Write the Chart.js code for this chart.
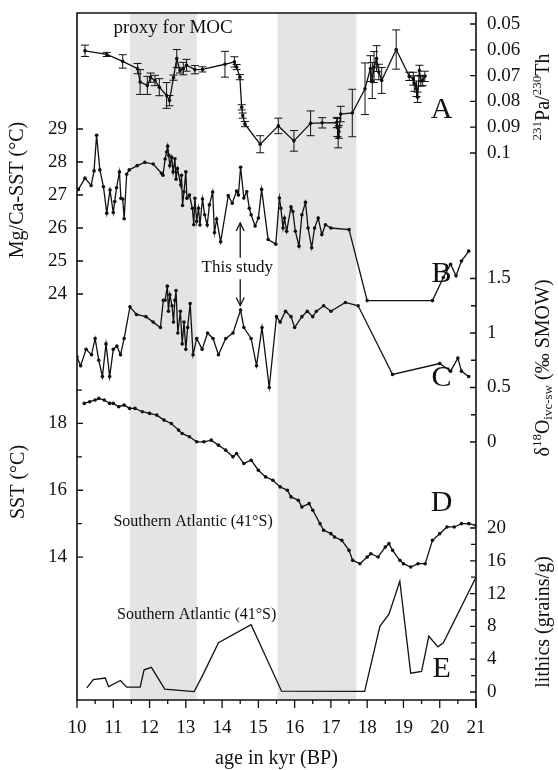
<!DOCTYPE html>
<html><head><meta charset="utf-8">
<script src="https://cdn.jsdelivr.net/npm/chart.js@4"></script>
<style>html,body{margin:0;padding:0;background:#fff;}</style>
</head><body>
<canvas id="c" width="558" height="770"></canvas>
<script>
// ---------- DATA ----------
// A: 231Pa/230Th (proxy for MOC)
const ageA = [10.22,10.82,11.26,11.67,11.74,11.94,12.03,12.15,12.27,12.47,12.55,12.66,12.75,12.84,12.93,13.02,13.25,13.46,14.08,14.34,14.40,14.49,14.54,14.57,14.63,15.05,15.55,15.98,16.44,16.76,17.16,17.18,17.20,17.22,17.27,17.59,17.94,18.09,18.14,18.19,18.26,18.32,18.40,18.80,19.16,19.27,19.30,19.36,19.39,19.44,19.48,19.53,19.59];
const paTh = [0.0604,0.0618,0.0645,0.0673,0.0725,0.0738,0.0708,0.0719,0.0745,0.0777,0.0797,0.0708,0.0634,0.0680,0.0673,0.0660,0.0677,0.0676,0.0656,0.0647,0.0667,0.0706,0.0823,0.0855,0.0888,0.0966,0.0895,0.0953,0.0885,0.0883,0.0882,0.0901,0.0940,0.0918,0.0849,0.0845,0.0751,0.0673,0.0719,0.0667,0.0634,0.0686,0.0719,0.0599,0.0703,0.0712,0.0731,0.0751,0.0784,0.0680,0.0721,0.0719,0.0703];
const paThErr = [0.0022,0.0008,0.0026,0.0020,0.0048,0.0035,0.0018,0.0020,0.0033,0.0050,0.0020,0.0010,0.0035,0.0010,0.0024,0.0023,0.0016,0.0010,0.0050,0.0020,0.0010,0.0010,0.0010,0.0010,0.0010,0.0033,0.0030,0.0040,0.0048,0.0020,0.0020,0.0035,0.0040,0.0025,0.0030,0.0092,0.0100,0.0050,0.0070,0.0060,0.0050,0.0030,0.0050,0.0076,0.0016,0.0025,0.0030,0.0030,0.0020,0.0020,0.0020,0.0020,0.0020];
// B: Mg/Ca-SST (this study)
const ageB = [10.04,10.22,10.39,10.47,10.54,10.63,10.73,10.82,10.91,11.0,11.04,11.09,11.17,11.21,11.26,11.30,11.37,11.44,11.66,11.87,12.10,12.33,12.37,12.43,12.47,12.50,12.53,12.56,12.61,12.65,12.70,12.73,12.77,12.86,12.88,12.91,12.95,13.0,13.03,13.1,13.18,13.22,13.25,13.3,13.35,13.39,13.46,13.52,13.59,13.65,13.74,13.79,13.85,13.96,14.17,14.28,14.40,14.45,14.51,14.60,14.68,14.75,14.80,14.91,15.0,15.09,15.27,15.48,15.58,15.62,15.68,15.72,15.78,15.9,15.95,16.02,16.12,16.2,16.30,16.37,16.47,16.55,16.65,16.75,16.85,17.0,17.5,18.0,19.8,20.1,20.3,20.45,20.6,20.8];
const sstB = [27.17,27.51,27.29,27.73,28.81,27.76,27.25,26.45,27.15,26.47,26.8,27.22,27.7,26.9,26.88,26.28,27.63,27.76,27.89,27.99,27.94,27.66,27.6,28.09,28.3,28.48,28.2,27.89,28.14,27.7,28.1,27.48,27.8,27.3,27.6,26.68,27.1,27.7,26.9,27.0,26.6,26.1,26.9,26.2,26.6,26.09,26.88,26.4,26.09,26.7,27.09,25.86,26.27,25.58,26.98,26.75,27.12,27.0,27.84,26.91,27.1,26.6,26.4,26.06,26.3,27.17,25.65,25.51,26.91,26.6,26.0,26.3,25.9,26.64,26.5,25.9,25.45,26.4,26.78,26.0,25.4,26.0,26.3,25.8,26.1,26.0,25.95,23.8,23.8,24.5,24.9,24.55,25.0,25.3];
// C: delta18O ivc-sw
const ageC = [10.0,10.1,10.25,10.4,10.5,10.6,10.7,10.8,10.9,11.0,11.1,11.2,11.3,11.46,11.64,11.9,12.1,12.3,12.38,12.43,12.49,12.52,12.56,12.62,12.66,12.7,12.73,12.78,12.85,12.9,12.95,13.0,13.05,13.12,13.2,13.3,13.45,13.6,13.75,13.9,14.1,14.3,14.51,14.6,14.8,14.95,15.1,15.3,15.5,15.6,15.75,15.9,16.0,16.2,16.35,16.5,16.6,16.8,17.0,17.4,17.75,18.7,20.0,20.3,20.5,20.6,20.8];
const d18O = [0.78,0.7,0.85,0.8,0.95,0.75,0.6,0.9,0.6,0.85,0.88,0.8,0.95,1.24,1.17,1.15,1.1,1.05,1.3,1.3,1.43,1.2,1.35,1.25,1.1,1.3,1.39,1.0,1.2,0.9,1.1,0.85,1.05,1.27,0.8,0.95,0.85,1.0,0.95,0.8,0.95,1.0,1.21,1.05,0.95,0.7,1.05,0.5,1.15,1.1,1.2,1.15,1.05,1.15,1.2,1.15,1.2,1.25,1.2,1.28,1.25,0.62,0.72,0.65,0.77,0.65,0.6];
// D: SST Southern Atlantic (41°S)
const ageD = [10.2,10.35,10.5,10.6,10.75,10.9,11.0,11.15,11.3,11.45,11.6,11.8,12.0,12.2,12.4,12.6,12.8,12.9,13.1,13.3,13.5,13.7,13.9,14.1,14.3,14.4,14.6,14.8,15.0,15.2,15.4,15.6,15.8,15.9,16.1,16.2,16.4,16.5,16.7,16.8,17.0,17.1,17.3,17.5,17.6,17.8,18.0,18.1,18.3,18.5,18.6,18.7,18.9,19.0,19.2,19.4,19.6,19.8,20.0,20.2,20.4,20.6,20.8,21.0];
const sstD = [18.6,18.65,18.7,18.75,18.7,18.6,18.6,18.5,18.55,18.45,18.45,18.35,18.3,18.25,18.1,18.0,17.8,17.7,17.6,17.45,17.45,17.5,17.35,17.2,17.0,17.1,16.8,16.9,16.6,16.4,16.3,16.1,16.0,15.8,15.7,15.5,15.6,15.4,15.0,14.8,14.7,14.6,14.5,14.2,13.9,13.8,14.0,14.1,14.0,14.3,14.4,14.2,13.9,13.8,13.7,13.8,13.8,14.5,14.7,14.9,14.9,15.0,15.0,14.95];
// E: lithics (grains/g)
const ageE = [10.27,10.45,10.78,10.87,11.2,11.37,11.74,11.85,12.05,12.42,13.23,13.46,13.9,14.8,15.64,17.93,18.35,18.6,18.9,19.2,19.5,19.7,19.95,20.1,21.0];
const lithE = [0.5,1.5,1.7,0.65,1.4,0.6,0.6,2.7,3.0,0.35,0.05,2.0,6.0,8.2,0.1,0.07,8.0,9.5,13.5,2.3,2.5,6.8,5.5,6.0,14.0];

// ---------- TICKS / LABELS ----------
const xTickVals = [10,11,12,13,14,15,16,17,18,19,20,21];
const paThTicks = [0.05,0.06,0.07,0.08,0.09,0.1];
const paThTickLabels = ['0.05','0.06','0.07','0.08','0.09','0.1'];
const mgTicks = [24,25,26,27,28,29];
const d18Ticks = [0,0.5,1,1.5];
const d18Minor = [0.25,0.75,1.25];
const sstTicks = [14,16,18];
const sstMinor = [15,17,19];
const lithTicks = [0,4,8,12,16,20];
const lithMinor = [2,6,10,14,18];
const shadeBands = [[11.46,13.3],[15.53,17.7]];
const arrowAge = 14.5;

const SERIF = '"Liberation Serif","DejaVu Serif",serif';
const INK = '#111';

function pts(xs, ys){ return xs.map((x,i)=>({x:x, y:ys[i]})); }

function richWidth(ctx, parts){
  let w=0; for(const p of parts){ ctx.font = p.size+'px '+SERIF; w += ctx.measureText(p.t).width; } return w;
}
function drawRich(ctx, parts, cx, cy, rot){
  ctx.save();
  ctx.translate(cx, cy);
  if(rot) ctx.rotate(rot);
  ctx.textBaseline='middle'; ctx.textAlign='left'; ctx.fillStyle=INK;
  let x = -richWidth(ctx, parts)/2;
  for(const p of parts){ ctx.font = p.size+'px '+SERIF; ctx.fillText(p.t, x, p.dy||0); x += ctx.measureText(p.t).width; }
  ctx.restore();
}
function arrow(ctx, x, y1, y2){
  ctx.beginPath(); ctx.moveTo(x,y1); ctx.lineTo(x,y2); ctx.stroke();
  const d = y2>y1 ? 1 : -1;
  ctx.beginPath(); ctx.moveTo(x-4, y2-d*8); ctx.lineTo(x, y2); ctx.lineTo(x+4, y2-d*8); ctx.stroke();
}

const decor = {
  id:'decor',
  beforeDatasetsDraw(chart){
    const {ctx, chartArea:a, scales:s} = chart;
    ctx.save(); ctx.fillStyle='#e4e4e4';
    for(const [b0,b1] of shadeBands){
      const x0 = s.x.getPixelForValue(b0), x1 = s.x.getPixelForValue(b1);
      ctx.fillRect(x0, a.top, x1-x0, a.bottom-a.top);
    }
    ctx.restore();
  },
  afterDatasetsDraw(chart){
    const {ctx, chartArea:a, scales:s} = chart;
    ctx.save();
    ctx.strokeStyle=INK; ctx.fillStyle=INK; ctx.lineWidth=1;
    // error bars (A)
    ageA.forEach((t,i)=>{
      const x = s.x.getPixelForValue(t);
      const y0 = s.yA.getPixelForValue(paTh[i]-paThErr[i]);
      const y1 = s.yA.getPixelForValue(paTh[i]+paThErr[i]);
      ctx.beginPath();
      ctx.moveTo(x,y0); ctx.lineTo(x,y1);
      ctx.moveTo(x-4,y0); ctx.lineTo(x+4,y0);
      ctx.moveTo(x-4,y1); ctx.lineTo(x+4,y1);
      ctx.stroke();
    });
    // frame
    ctx.lineWidth=1.6;
    ctx.beginPath();
    ctx.moveTo(a.left, a.bottom+1); ctx.lineTo(a.left, a.top); ctx.lineTo(a.right, a.top); ctx.lineTo(a.right, a.bottom+8);
    ctx.moveTo(a.left, a.bottom); ctx.lineTo(a.right, a.bottom);
    ctx.stroke();
    ctx.lineWidth=1.3;
    // x ticks
    ctx.beginPath();
    for(let v=10; v<=21.001; v+=0.5){
      const x = s.x.getPixelForValue(v);
      const len = Math.abs(v-Math.round(v))<0.01 ? 8 : 4;
      ctx.moveTo(x, a.bottom); ctx.lineTo(x, a.bottom+len);
    }
    ctx.stroke();
    ctx.font='19px '+SERIF; ctx.textAlign='center'; ctx.textBaseline='middle';
    xTickVals.forEach(v=>ctx.fillText(String(v), s.x.getPixelForValue(v), a.bottom+28));
    ctx.font='20px '+SERIF;
    ctx.fillText('age in kyr (BP)', (a.left+a.right)/2, a.bottom+59);
    // y ticks helper
    const tick = (scale, vals, side, labels, len)=>{
      ctx.beginPath();
      vals.forEach(v=>{
        const y = scale.getPixelForValue(v);
        if(side==='left'){ ctx.moveTo(a.left,y); ctx.lineTo(a.left+len,y); }
        else { ctx.moveTo(a.right,y); ctx.lineTo(a.right-len,y); }
      });
      ctx.stroke();
      if(labels){
        ctx.font='19px '+SERIF; ctx.textBaseline='middle';
        ctx.textAlign = side==='left' ? 'right' : 'left';
        vals.forEach((v,i)=>{
          const y = scale.getPixelForValue(v);
          ctx.fillText(labels[i], side==='left' ? a.left-10 : a.right+11, y);
        });
      }
    };
    tick(s.yA, paThTicks, 'right', paThTickLabels, 6);
    tick(s.yB, mgTicks, 'left', mgTicks.map(String), 6);
    tick(s.yC, d18Ticks, 'right', d18Ticks.map(String), 6);
    tick(s.yC, d18Minor, 'right', null, 5);
    tick(s.yD, sstTicks, 'left', sstTicks.map(String), 6);
    tick(s.yD, sstMinor, 'left', null, 5);
    tick(s.yE, lithTicks, 'right', lithTicks.map(String), 6);
    tick(s.yE, lithMinor, 'right', null, 5);
    // axis titles
    const R = -Math.PI/2;
    drawRich(ctx, [{t:'Mg/Ca-SST (°C)', size:20}], 18, 190, R);
    drawRich(ctx, [{t:'SST (°C)', size:20}], 19, 482, R);
    drawRich(ctx, [{t:'231',size:13,dy:-6},{t:'Pa/',size:20},{t:'230',size:13,dy:-6},{t:'Th',size:20}], 544, 97, R);
    drawRich(ctx, [{t:'δ',size:20},{t:'18',size:13,dy:-6},{t:'O',size:20},{t:'ivc-sw',size:13,dy:5},{t:' (‰ SMOW)',size:20}], 544, 368, R);
    drawRich(ctx, [{t:'lithics (grains/g)', size:20}], 544, 622, R);
    // panel letters
    ctx.font='30px '+SERIF; ctx.textAlign='center'; ctx.textBaseline='middle';
    const lx = s.x.getPixelForValue(20.05);
    ctx.fillText('A', lx, s.yA.getPixelForValue(0.0833));
    ctx.fillText('B', lx, s.yB.getPixelForValue(24.6));
    ctx.fillText('C', lx, s.yC.getPixelForValue(0.59));
    ctx.fillText('D', lx, s.yD.getPixelForValue(15.6));
    ctx.fillText('E', lx, s.yE.getPixelForValue(2.8));
    // annotations
    ctx.font='19px '+SERIF;
    ctx.fillText('proxy for MOC', s.x.getPixelForValue(12.65), s.yA.getPixelForValue(0.0516));
    ctx.font='17px '+SERIF;
    const ax = s.x.getPixelForValue(arrowAge);
    ctx.fillText('This study', ax-3, s.yB.getPixelForValue(24.8));
    ctx.lineWidth=1.3;
    arrow(ctx, ax, s.yB.getPixelForValue(25.1), s.yB.getPixelForValue(26.15));
    arrow(ctx, ax, s.yB.getPixelForValue(24.45), s.yB.getPixelForValue(23.65));
    ctx.font='16px '+SERIF;
    ctx.fillText('Southern Atlantic (41°S)', s.x.getPixelForValue(13.2), s.yD.getPixelForValue(15.05));
    ctx.fillText('Southern Atlantic (41°S)', s.x.getPixelForValue(13.3), s.yE.getPixelForValue(9.4));
    ctx.restore();
  }
};

const lineStyle = (r)=>({borderColor:INK, backgroundColor:INK, pointBackgroundColor:INK, pointBorderColor:INK, borderWidth:1.3, pointRadius:r, pointBorderWidth:0, tension:0, fill:false});

new Chart(document.getElementById('c'), {
  type:'line',
  data:{ datasets:[
    Object.assign({label:'Pa/Th', data:pts(ageA,paTh), yAxisID:'yA'}, lineStyle(1.8)),
    Object.assign({label:'Mg/Ca-SST', data:pts(ageB,sstB), yAxisID:'yB'}, lineStyle(1.8)),
    Object.assign({label:'d18O', data:pts(ageC,d18O), yAxisID:'yC'}, lineStyle(1.8)),
    Object.assign({label:'SST', data:pts(ageD,sstD), yAxisID:'yD'}, lineStyle(1.8)),
    Object.assign({label:'lithics', data:pts(ageE,lithE), yAxisID:'yE'}, lineStyle(0)),
  ]},
  options:{
    responsive:false, animation:false, devicePixelRatio:1,
    layout:{padding:{left:77, top:13, right:82, bottom:70}},
    plugins:{legend:{display:false}, tooltip:{enabled:false}},
    scales:{
      x:{type:'linear', min:10, max:21, display:false},
      yA:{type:'linear', reverse:true, min:0.04574, max:0.3120, display:false},
      yB:{type:'linear', min:11.697, max:32.515, display:false},
      yC:{type:'linear', min:-2.367, max:3.936, display:false},
      yD:{type:'linear', min:9.719, max:30.29, display:false},
      yE:{type:'linear', min:-0.976, max:82.8, display:false}
    }
  },
  plugins:[decor]
});
</script>
</body></html>
